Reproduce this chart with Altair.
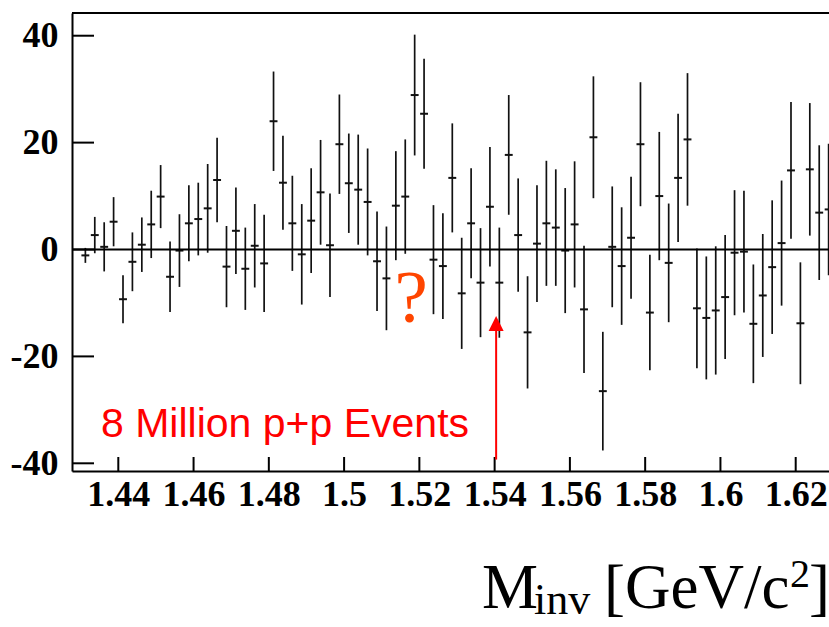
import altair as alt
import pandas as pd

# ---- data ----
# bin centres (regular 2.5 MeV histogram bins)
bin_centers = [round(1.43125 + 0.0025 * i, 5) for i in range(80)]

values = [
    -1.1, 2.7, 0.5, 5.2, -9.3, -2.3, 0.9, 4.7, 9.9, -5.1,
    -0.2, 4.9, 5.7, 7.7, 13.0, -3.2, 3.5, -3.6, 0.7, -2.6,
    24.0, 12.5, 4.9, -0.9, 5.4, 10.7, 0.8, 19.7, 12.4, 11.2,
    8.9, -2.2, -5.4, 8.2, 9.9, 28.9, 25.4, -1.9, -3.1, 13.4,
    -8.2, 4.9, -6.2, 8.0, -6.2, 17.7, 2.7, -15.5, 1.1, 4.9,
    4.1, -0.2, 4.7, -11.2, 21.0, -26.5, 0.5, -3.1, 2.2, 19.7,
    -11.8, 10.0, -2.5, 13.4, 20.6, -11.0, -12.8, -11.4, -8.9, -0.6,
    -0.4, -13.9, -8.6, -3.3, 1.2, 14.8, -13.8, 15.0, 6.9, 7.5,
]

errors = [
    1.4, 3.4, 4.6, 4.6, 4.5, 5.5, 5.1, 6.3, 5.9, 6.6,
    6.8, 7.1, 6.8, 8.3, 7.9, 7.6, 8.1, 7.7, 7.8, 9.1,
    9.3, 8.8, 8.9, 9.4, 9.8, 9.8, 9.7, 9.3, 9.3, 10.3,
    10.0, 9.3, 9.7, 10.2, 10.7, 11.3, 10.3, 10.2, 9.9, 10.2,
    10.4, 10.3, 10.2, 11.2, 10.3, 11.2, 10.6, 10.5, 10.9, 11.7,
    10.9, 11.7, 11.8, 11.9, 11.4, 11.1, 11.3, 11.0, 11.4, 11.6,
    10.8, 12.0, 11.1, 12.0, 12.4, 11.2, 11.5, 12.0, 11.6, 11.7,
    11.4, 11.1, 11.5, 12.5, 11.7, 12.8, 11.4, 12.4, 12.6, 12.3,
]

x_tick_values = [1.44, 1.46, 1.48, 1.5, 1.52, 1.54, 1.56, 1.58, 1.6, 1.62]
y_tick_values = [-40, -20, 0, 20, 40]

arrow_x = [1.5404]
arrow_y_start = [-39.3]
arrow_y_end = [-15.0]
arrow_head_y = [-13.86]

df = pd.DataFrame({"m": bin_centers, "v": values, "e": errors})
xt = pd.DataFrame({"t": x_tick_values})
yt = pd.DataFrame({"t": y_tick_values})
arrow_df = pd.DataFrame({"x": arrow_x, "y0": arrow_y_start, "y1": arrow_y_end, "yh": arrow_head_y})

W, H = 757, 458
xscale = alt.Scale(domain=[1.427697, 1.628849], nice=False, zero=False)
yscale = alt.Scale(domain=[-41.44, 44.25], nice=False, zero=False)

LABEL_FONT = "Liberation Serif"

x_axis = alt.Axis(
    values=x_tick_values, ticks=False, grid=False, domain=True,
    domainColor="black", domainWidth=2,
    labelFont=LABEL_FONT, labelFontWeight="bold", labelFontSize=36,
    labelColor="black", labelPadding=6, labelExpr="'' + datum.value",
    labelFlush=False, labelOverlap=False, title=None,
)
y_axis = alt.Axis(
    values=y_tick_values, ticks=False, grid=False, domain=True,
    domainColor="black", domainWidth=2,
    labelFont=LABEL_FONT, labelFontWeight="bold", labelFontSize=36,
    labelColor="black", labelPadding=14, labelExpr="'' + datum.value",
    labelFlush=False, labelOverlap=False, title=None,
)


def X(field):
    return alt.X(field, scale=xscale, axis=x_axis)


def Y(field):
    return alt.Y(field, scale=yscale, axis=y_axis)


base = alt.Chart(df)

err_bars = base.transform_calculate(
    lo="datum.v - datum.e", hi="datum.v + datum.e"
).mark_rule(color="#111111", strokeWidth=1.7).encode(
    x=X("m:Q"), y=Y("lo:Q"), y2="hi:Q",
)

centres = base.transform_calculate(
    a="datum.m - 0.00105", b="datum.m + 0.00105"
).mark_rule(color="#111111", strokeWidth=2).encode(
    x=X("a:Q"), x2="b:Q", y=Y("v:Q"),
)

zero_line = alt.Chart(yt).transform_filter("datum.t == 0").mark_rule(
    color="black", strokeWidth=2
).encode(
    y=Y("t:Q"), x=alt.value(0), x2=alt.value(W + 5),
)

top_frame = alt.Chart(yt).transform_filter("datum.t == 0").mark_rule(
    color="black", strokeWidth=2
).encode(
    y=alt.value(0), x=alt.value(0), x2=alt.value(W + 5),
)

y_ticks = alt.Chart(yt).mark_rule(color="black", strokeWidth=2).encode(
    y=Y("t:Q"), x=alt.value(0), x2=alt.value(22),
)

x_ticks = alt.Chart(xt).mark_rule(color="black", strokeWidth=2).encode(
    x=X("t:Q"), y=alt.value(H), y2=alt.value(H - 14),
)

arrow_line = alt.Chart(arrow_df).mark_rule(color="#ff0000", strokeWidth=2).encode(
    x=X("x:Q"), y=Y("y0:Q"), y2="y1:Q",
)
arrow_head = alt.Chart(arrow_df).mark_point(
    shape="M-1,1L0,-1L1,1Z", filled=True, color="#ff0000", size=225, opacity=1
).encode(
    x=X("x:Q"), y=Y("yh:Q"),
)

ann = pd.DataFrame({
    "label": ["?", "8 Million p+p Events"],
    "ax": [1.5178, 1.4354],
    "ay": [-13.56, -35.1],
})

qmark = alt.Chart(ann).transform_filter("datum.label == '?'").mark_text(
    font=LABEL_FONT, fontSize=75, color="#ff4500",
    align="center", baseline="alphabetic",
).encode(x=X("ax:Q"), y=Y("ay:Q"), text="label:N")

events = alt.Chart(ann).transform_filter("datum.label != '?'").mark_text(
    font="Liberation Sans", fontSize=41,
    color="#ff0000", align="left", baseline="alphabetic",
).encode(x=X("ax:Q"), y=Y("ay:Q"), text="label:N")


def title_piece(txt, px, py, size):
    return alt.Chart(yt).transform_filter("datum.t == 0").mark_text(
        text=txt, font=LABEL_FONT, fontSize=size, color="black",
        align="left", baseline="alphabetic",
    ).encode(x=alt.value(px), y=alt.value(py))


title_parts = [
    title_piece("M", 410, 595, 63),
    title_piece("inv", 462, 601, 44),
    title_piece("[GeV/c", 532, 595, 63),
    title_piece("2", 718, 574, 40),
    title_piece("]", 737, 595, 63),
]

chart = alt.layer(
    err_bars, centres, zero_line, top_frame, y_ticks, x_ticks,
    arrow_line, arrow_head, qmark, events, *title_parts,
).properties(
    width=W, height=H,
    autosize=alt.AutoSizeParams(type="none"),
    padding={"left": 72, "top": 13, "right": 0, "bottom": 156},
).configure_view(stroke=None).configure(background="white")

chart.save("out.html", embed_options={"renderer": "svg", "actions": False})
